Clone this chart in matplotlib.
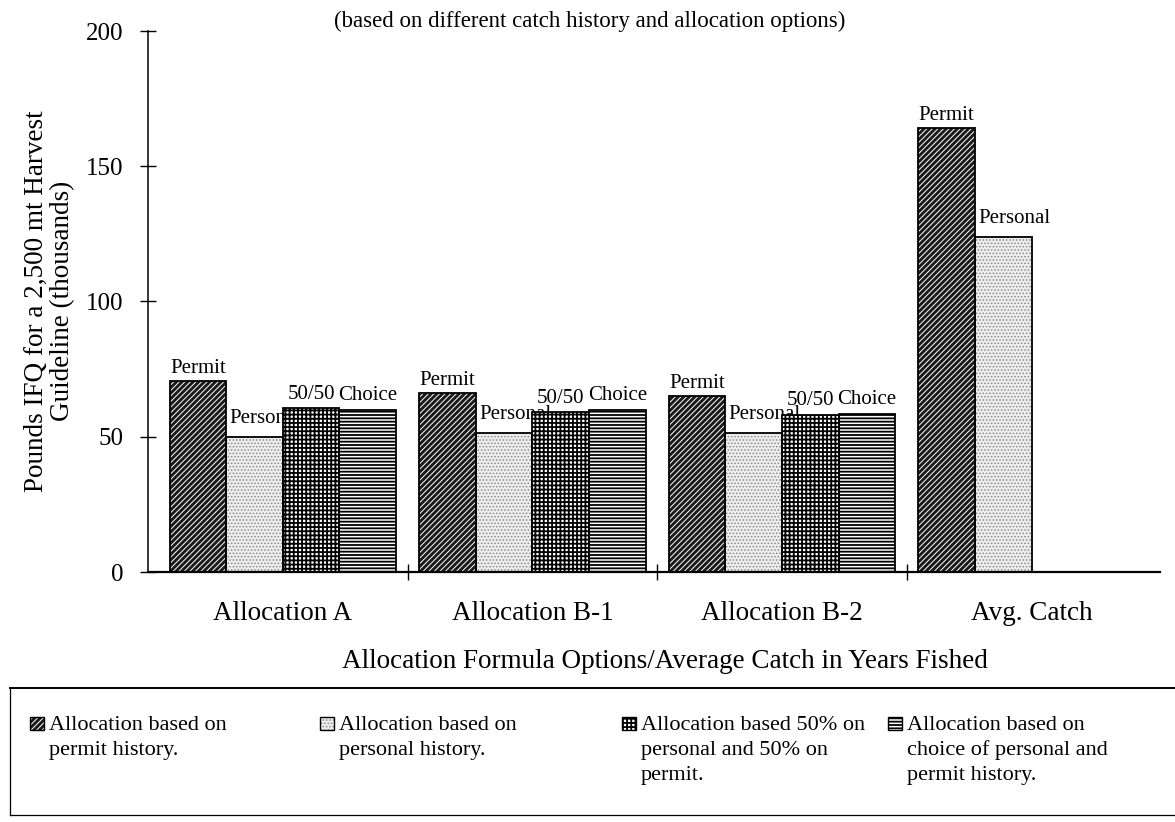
import matplotlib
matplotlib.use('Agg')
import matplotlib.pyplot as plt
from matplotlib.patches import Rectangle
from matplotlib.lines import Line2D
import numpy as np

# ---------------- data ----------------
categories = ['Allocation A', 'Allocation B-1', 'Allocation B-2', 'Avg. Catch']
series_names = ['Permit', 'Personal', '50/50', 'Choice']
permit = [70.5, 66.0, 65.0, 164.0]
personal = [50.0, 51.5, 51.5, 124.0]
fifty_fifty = [60.5, 59.0, 58.0, None]
choice = [60.0, 60.0, 58.5, None]
yticks = [0, 50, 100, 150, 200]
legend_labels = [
    'Allocation based on\npermit history.',
    'Allocation based on\npersonal history.',
    'Allocation based 50% on\npersonal and 50% on\npermit.',
    'Allocation based on\nchoice of personal and\npermit history.',
]
xlabel = 'Allocation Formula Options/Average Catch in Years Fished'
ylabel = 'Pounds IFQ for a 2,500 mt Harvest\nGuideline (thousands)'
subtitle = '(based on different catch history and allocation options)'

# ---------------- style ----------------
plt.rcParams['font.family'] = ['Liberation Serif', 'DejaVu Serif']
W, H = 1175, 822
fig = plt.figure(figsize=(W / 100, H / 100), dpi=100)

def fx(px):
    return px / W

def fy(py):
    return 1 - py / H

styles = [
    dict(face='#1a1a1a', hcol='white', hatch='//////', hlw=0.7),
    dict(face='#ededed', hcol='#8a8a8a', hatch='.....', hlw=0.7),
    dict(face='white', hcol='black', hatch='++++', hlw=1.3),
    dict(face='white', hcol='black', hatch='-----', hlw=1.3),
]

ax = fig.add_axes([fx(148), fy(572), fx(1160 - 148), (572 - 31) / H])
ax.set_xlim(-0.541, 3.515)
ax.set_ylim(0, 200)

series = [permit, personal, fifty_fifty, choice]
x = np.arange(len(categories))
w = 0.2265
label_off = [(0, 6), (8, 10), (0, 7), (0, 7)]  # points
for j, vals in enumerate(series):
    st = styles[j]
    idx = [i for i, v in enumerate(vals) if v is not None]
    xs = x[idx] + (j - 1.5) * w
    hs = [vals[i] for i in idx]
    with plt.rc_context({'hatch.linewidth': st['hlw']}):
        ax.bar(xs, hs, width=w, align='center', facecolor=st['face'],
               edgecolor=st['hcol'], hatch=st['hatch'], linewidth=0, zorder=2)
    ax.bar(xs, hs, width=w, align='center', fill=False,
           edgecolor='black', linewidth=1.3, zorder=3)
    for xv, hv in zip(xs, hs):
        ax.annotate(series_names[j], (xv, hv), xytext=label_off[j],
                    textcoords='offset points', ha='center', va='baseline',
                    fontsize=15, zorder=1)

for s in ['top', 'right']:
    ax.spines[s].set_visible(False)
ax.spines['left'].set_linewidth(1.1)
ax.spines['bottom'].set_linewidth(1.6)

ax.set_yticks(yticks)
ax.set_yticklabels([str(v) for v in yticks])
ax.tick_params(axis='y', direction='inout', length=11, width=1.0, pad=12.5,
               labelsize=18)
ax.set_xticks(x)
ax.set_xticklabels(categories)
ax.tick_params(axis='x', which='major', length=0, pad=21, labelsize=19.5)
ax.set_xticks(x[:-1] + 0.5, minor=True)
ax.tick_params(axis='x', which='minor', direction='inout', length=11, width=1.0)

# axis titles
fig.text(fx(665), fy(668), xlabel, ha='center', va='baseline', fontsize=19.5)
yl = ylabel.split('\n')
for k, line in enumerate(yl):
    fig.text(fx(36 + 27 * k), fy(301), line, rotation=90, ha='center',
             va='center', fontsize=19.5)

fig.text(fx(590), fy(27), subtitle, ha='center', va='baseline', fontsize=16.5)

# ---------------- legend box ----------------
fig.add_artist(Line2D([fx(10), fx(1175)], [fy(688), fy(688)], color='black', lw=1.4,
                      transform=fig.transFigure))
fig.add_artist(Line2D([fx(10), fx(1175)], [fy(815), fy(815)], color='black', lw=0.9,
                      transform=fig.transFigure))
fig.add_artist(Line2D([fx(10), fx(10)], [fy(688), fy(815)], color='black', lw=0.9,
                      transform=fig.transFigure))

patch_x = [30, 320, 622, 888]
base_y = 730
for j, lab in enumerate(legend_labels):
    st = styles[j]
    px0 = patch_x[j]
    with plt.rc_context({'hatch.linewidth': st['hlw']}):
        r = Rectangle((fx(px0), fy(base_y)), fx(14), 13 / H, transform=fig.transFigure,
                      facecolor=st['face'], edgecolor=st['hcol'], hatch=st['hatch'],
                      linewidth=0)
        fig.add_artist(r)
    fig.add_artist(Rectangle((fx(px0), fy(base_y)), fx(14), 13 / H,
                             transform=fig.transFigure, fill=False,
                             edgecolor='black', linewidth=1.0))
    for k, line in enumerate(lab.split('\n')):
        fig.text(fx(px0 + 19), fy(base_y + 25 * k), line, ha='left', va='baseline',
                 fontsize=16)

fig.savefig('out.png', dpi=100)
